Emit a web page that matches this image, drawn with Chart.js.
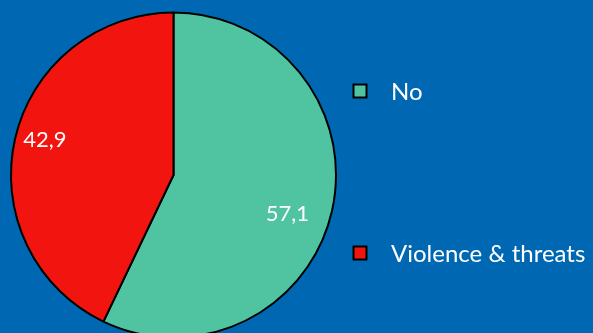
<!DOCTYPE html>
<html>
<head>
<meta charset="utf-8">
<script src="https://cdn.jsdelivr.net/npm/chart.js@4/dist/chart.umd.min.js"></script>
<style>
  html, body { margin: 0; padding: 0; background: #0068b3; overflow: hidden; }
  #wrap { width: 593px; height: 333px; overflow: hidden; }
  canvas { display: block; }
</style>
</head>
<body>
<div id="wrap"><canvas id="c" width="593" height="350"></canvas></div>
<script>
// Share of responses by category (percent)
const categories = ['No', 'Violence & threats'];
const shares = [57.1, 42.9];
const sliceColors = ['#50c3a0', '#f2140f'];

const FONT = 'Lato, "Open Sans", sans-serif';

// Writes each slice's value (decimal comma) inside its slice
const sliceLabels = {
  id: 'sliceLabels',
  afterDatasetsDraw(chart, args, opts) {
    const ctx = chart.ctx;
    const meta = chart.getDatasetMeta(0);
    const values = chart.data.datasets[0].data;
    ctx.save();
    ctx.fillStyle = '#ffffff';
    ctx.font = opts.size + 'px ' + FONT;
    ctx.textAlign = 'center';
    ctx.textBaseline = 'middle';
    meta.data.forEach((arc, i) => {
      const p = arc.getProps(['x', 'y', 'startAngle', 'endAngle', 'outerRadius'], true);
      const mid = (p.startAngle + p.endAngle) / 2 + (opts.angleShift[i] || 0) * Math.PI / 180;
      const r = p.outerRadius * opts.radius[i];
      const tx = p.x + Math.cos(mid) * r;
      const ty = p.y + Math.sin(mid) * r;
      ctx.fillText(values[i].toFixed(1).replace('.', ','), tx, ty);
    });
    ctx.restore();
  }
};

// Legend on the right: one square marker and name per slice
const sideLegend = {
  id: 'sideLegend',
  afterDraw(chart, args, opts) {
    const ctx = chart.ctx;
    const ds = chart.data.datasets[0];
    ctx.save();
    ctx.font = opts.size + 'px ' + FONT;
    ctx.textBaseline = 'middle';
    ctx.textAlign = 'left';
    chart.data.labels.forEach((lab, i) => {
      const y = opts.top + i * opts.gap;
      const s = opts.box;
      ctx.fillStyle = ds.backgroundColor[i];
      ctx.fillRect(opts.x - s / 2, y - s / 2, s, s);
      ctx.lineWidth = 2;
      ctx.strokeStyle = '#000000';
      ctx.strokeRect(opts.x - s / 2, y - s / 2, s, s);
      ctx.fillStyle = '#ffffff';
      ctx.fillText(lab, opts.textX, y + 1);
    });
    ctx.restore();
  }
};

new Chart(document.getElementById('c'), {
  type: 'pie',
  data: {
    labels: categories,
    datasets: [{
      data: shares,
      backgroundColor: sliceColors,
      borderColor: '#000000',
      borderWidth: 2
    }]
  },
  options: {
    responsive: false,
    animation: false,
    layout: { padding: { left: 10, top: 11, right: 256, bottom: 11 } },
    plugins: {
      legend: { display: false },
      tooltip: { enabled: false },
      sliceLabels: { size: 22, radius: [0.74, 0.82], angleShift: [6, 2.4] },
      sideLegend: { x: 360, top: 91, gap: 162, box: 13, textX: 391, size: 24 }
    }
  },
  plugins: [sliceLabels, sideLegend]
});
</script>
</body>
</html>
